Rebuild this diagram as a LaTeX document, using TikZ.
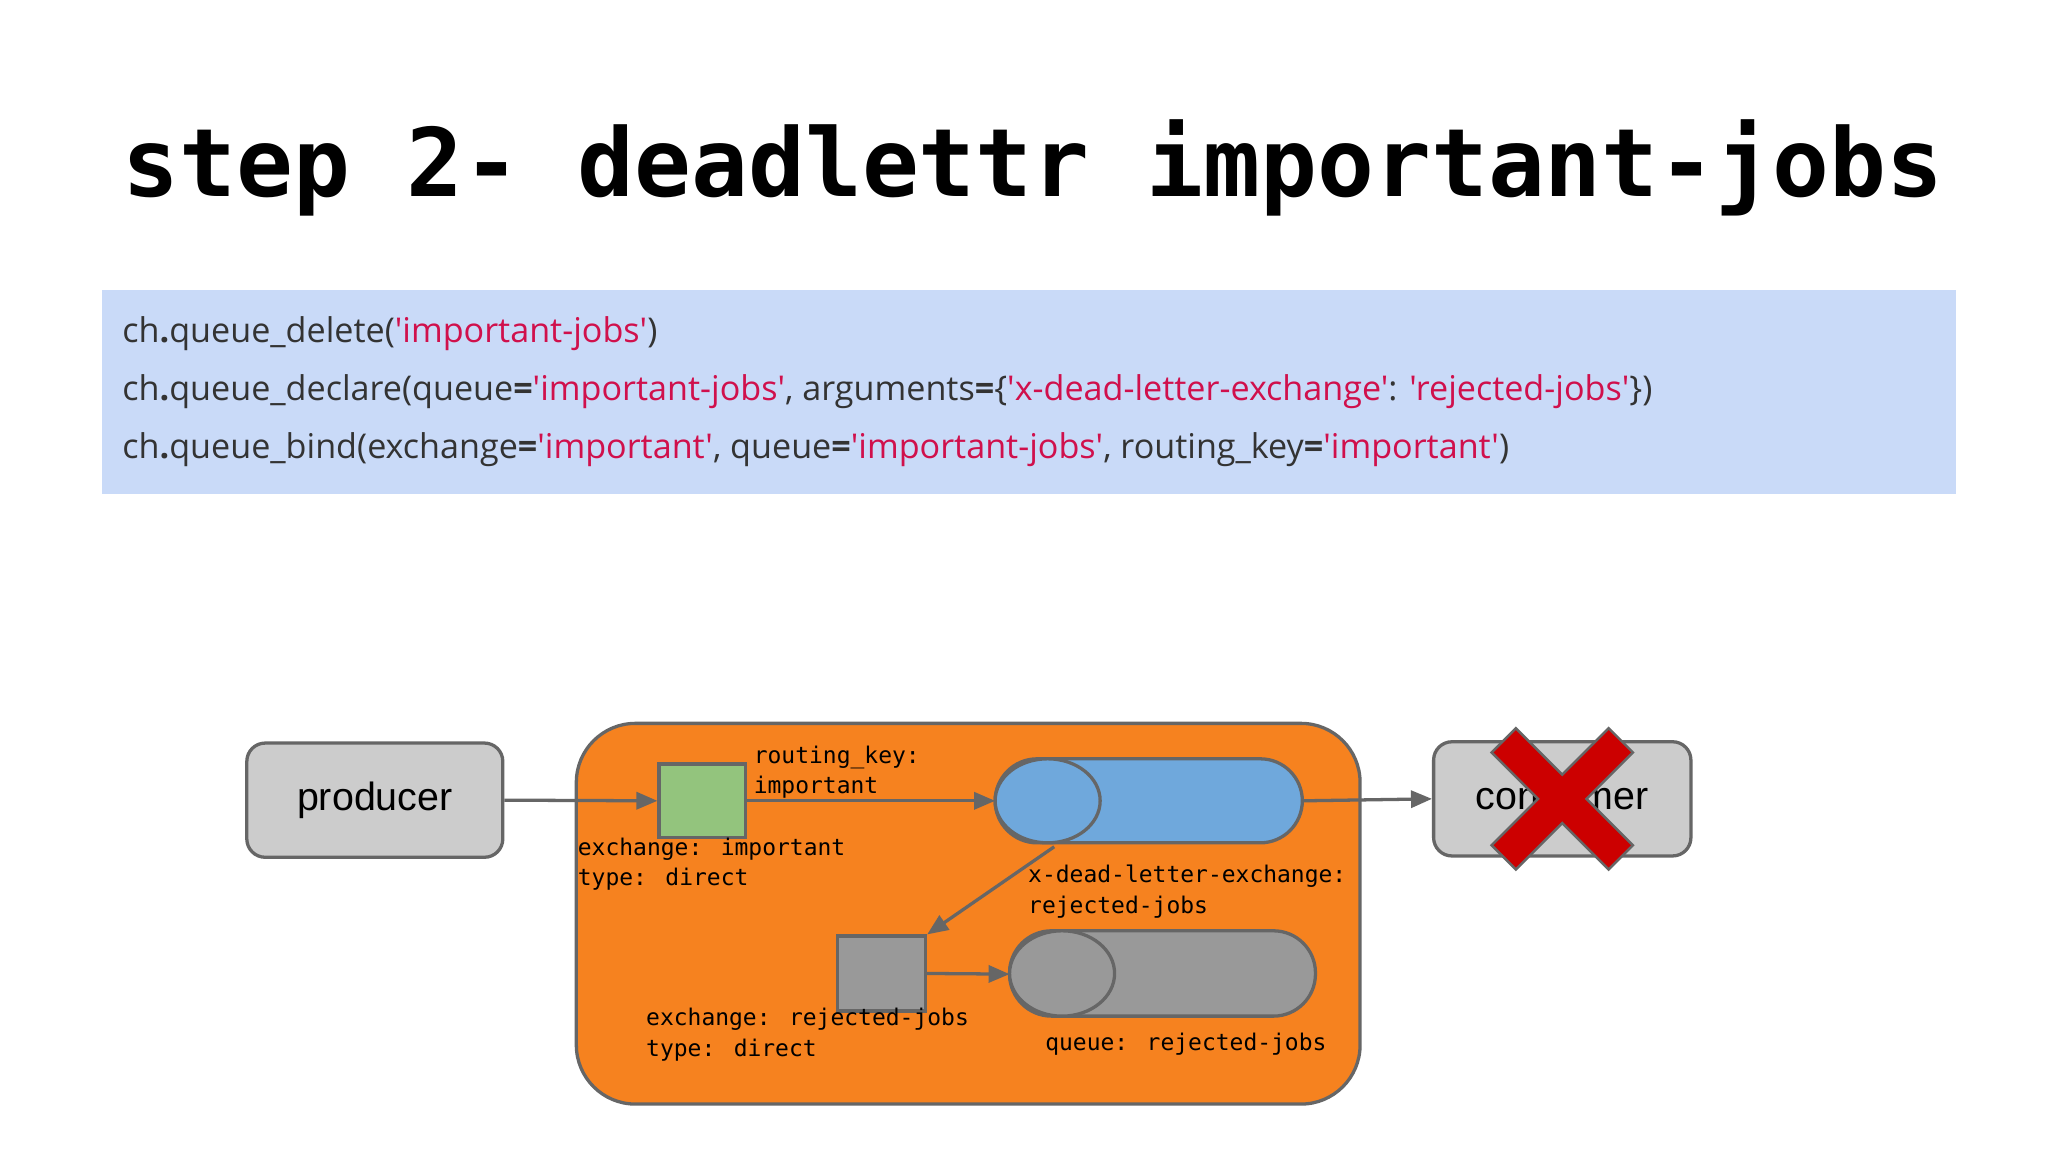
\documentclass[tikz,border=0pt]{standalone}
\usepackage{fontspec}
\usetikzlibrary{arrows.meta}
\setmainfont{Liberation Sans}
\newfontfamily\codefont{Open Sans}
\newfontfamily\monof{DejaVu Sans Mono}
\definecolor{codebg}{HTML}{C9DAF8}
\definecolor{codered}{HTML}{D0104C}
\definecolor{codetxt}{HTML}{333333}
\definecolor{edge}{HTML}{666666}
\definecolor{boxgray}{HTML}{CCCCCC}
\definecolor{orng}{HTML}{F6821F}
\definecolor{grn}{HTML}{93C47D}
\definecolor{blu}{HTML}{6FA8DC}
\definecolor{gry}{HTML}{999999}
\definecolor{xred}{HTML}{CC0000}
\begin{document}
\begin{tikzpicture}[x=1pt,y=-1pt,
  lbl/.style={font=\monof\fontsize{17.5}{23}\selectfont,anchor=north west,align=left,inner sep=0pt},
  cl/.style={font=\codefont\fontsize{26}{30}\selectfont,anchor=base west,inner sep=0pt,text=codetxt},
  arr/.style={draw=edge,line width=2.5pt,-{Triangle[length=16pt,width=13pt]}},
  pbox/.style={draw=edge,line width=2.5pt,fill=boxgray,rounded corners=14pt,font=\fontsize{30}{34}\selectfont}]
\useasboundingbox (0,0) rectangle (1560,877.5);
\fill[white] (0,0) rectangle (1560,877.5);
\node[anchor=base west,inner sep=0pt,font=\monof\bfseries\fontsize{72}{80}\selectfont] (title) at (93,150) {step 2- deadlettr important-jobs};
\fill[codebg] (78,221) rectangle (1490,376);
\newcommand{\rs}[1]{\textcolor{codered}{#1}}
\node[cl] (c1) at (93,261) {ch\textbf{.}queue\_delete(\rs{'important-jobs'})};
\node[cl] (c2) at (93,305) {ch\textbf{.}queue\_declare(queue\textbf{=}\rs{'important-jobs'}, arguments\textbf{=}\{\rs{'x-dead-letter-exchange'}: \rs{'rejected-jobs'}\})};
\node[cl] (c3) at (93,349) {ch\textbf{.}queue\_bind(exchange\textbf{=}\rs{'important'}, queue\textbf{=}\rs{'important-jobs'}, routing\_key\textbf{=}\rs{'important'})};
% container
\draw[edge,fill=orng,line width=2.5pt,rounded corners=45pt] (439,551) rectangle (1036,841);
\node[pbox,minimum width=195pt,minimum height=87pt] (prod) at (285.5,609.5) {producer};
\node[pbox,minimum width=196pt,minimum height=87pt] (cons) at (1190,608.5) {consumer};
\node[draw=edge,line width=2.5pt,fill=grn,minimum width=66pt,minimum height=56pt,inner sep=0pt] (ex1) at (535,610) {};
\node[draw=edge,line width=2.5pt,fill=gry,minimum width=67pt,minimum height=57pt,inner sep=0pt] (ex2) at (671.5,741.5) {};
% queues
\draw[edge,fill=blu,line width=2.5pt,rounded corners=32pt] (758,578) rectangle (992,642);
\draw[edge,fill=blu,line width=2.5pt] (798,610) ellipse [x radius=40pt,y radius=32pt];
\coordinate (q1l) at (758,610);
\coordinate (q1r) at (992,610);
\coordinate (q1b) at (803,645);
\draw[edge,fill=gry,line width=2.5pt,rounded corners=32pt] (769,709) rectangle (1002,774);
\draw[edge,fill=gry,line width=2.5pt] (809,741.5) ellipse [x radius=40pt,y radius=32.5pt];
\coordinate (q2l) at (769,742);
% arrows
\draw[arr] (prod.east) -- (ex1.west);
\draw[arr] (ex1.east) -- (q1l);
\draw[arr] (q1r) -- (cons.west);
\draw[arr] (q1b) -- (ex2.north east);
\draw[arr] (ex2.east) -- (q2l);
% labels
\node[lbl] (l1) at (574,568) {routing\_key:\\important};
\node[lbl] (l2) at (440,638) {exchange: important\\type: direct};
\node[lbl] (l3) at (783,659) {x-dead-letter-exchange:\\rejected-jobs};
\node[lbl] (l4) at (492,768) {exchange: rejected-jobs\\type: direct};
\node[lbl] (l5) at (796,787) {queue: rejected-jobs};
% red X
\begin{scope}[shift={(1190,608.5)}]
\foreach \a in {45,-45}{\draw[edge,line width=4pt,rotate=\a] (-62,-12) rectangle (62,12);}
\foreach \a in {45,-45}{\fill[xred,rotate=\a] (-62,-12) rectangle (62,12);}
\end{scope}
\end{tikzpicture}
\end{document}
